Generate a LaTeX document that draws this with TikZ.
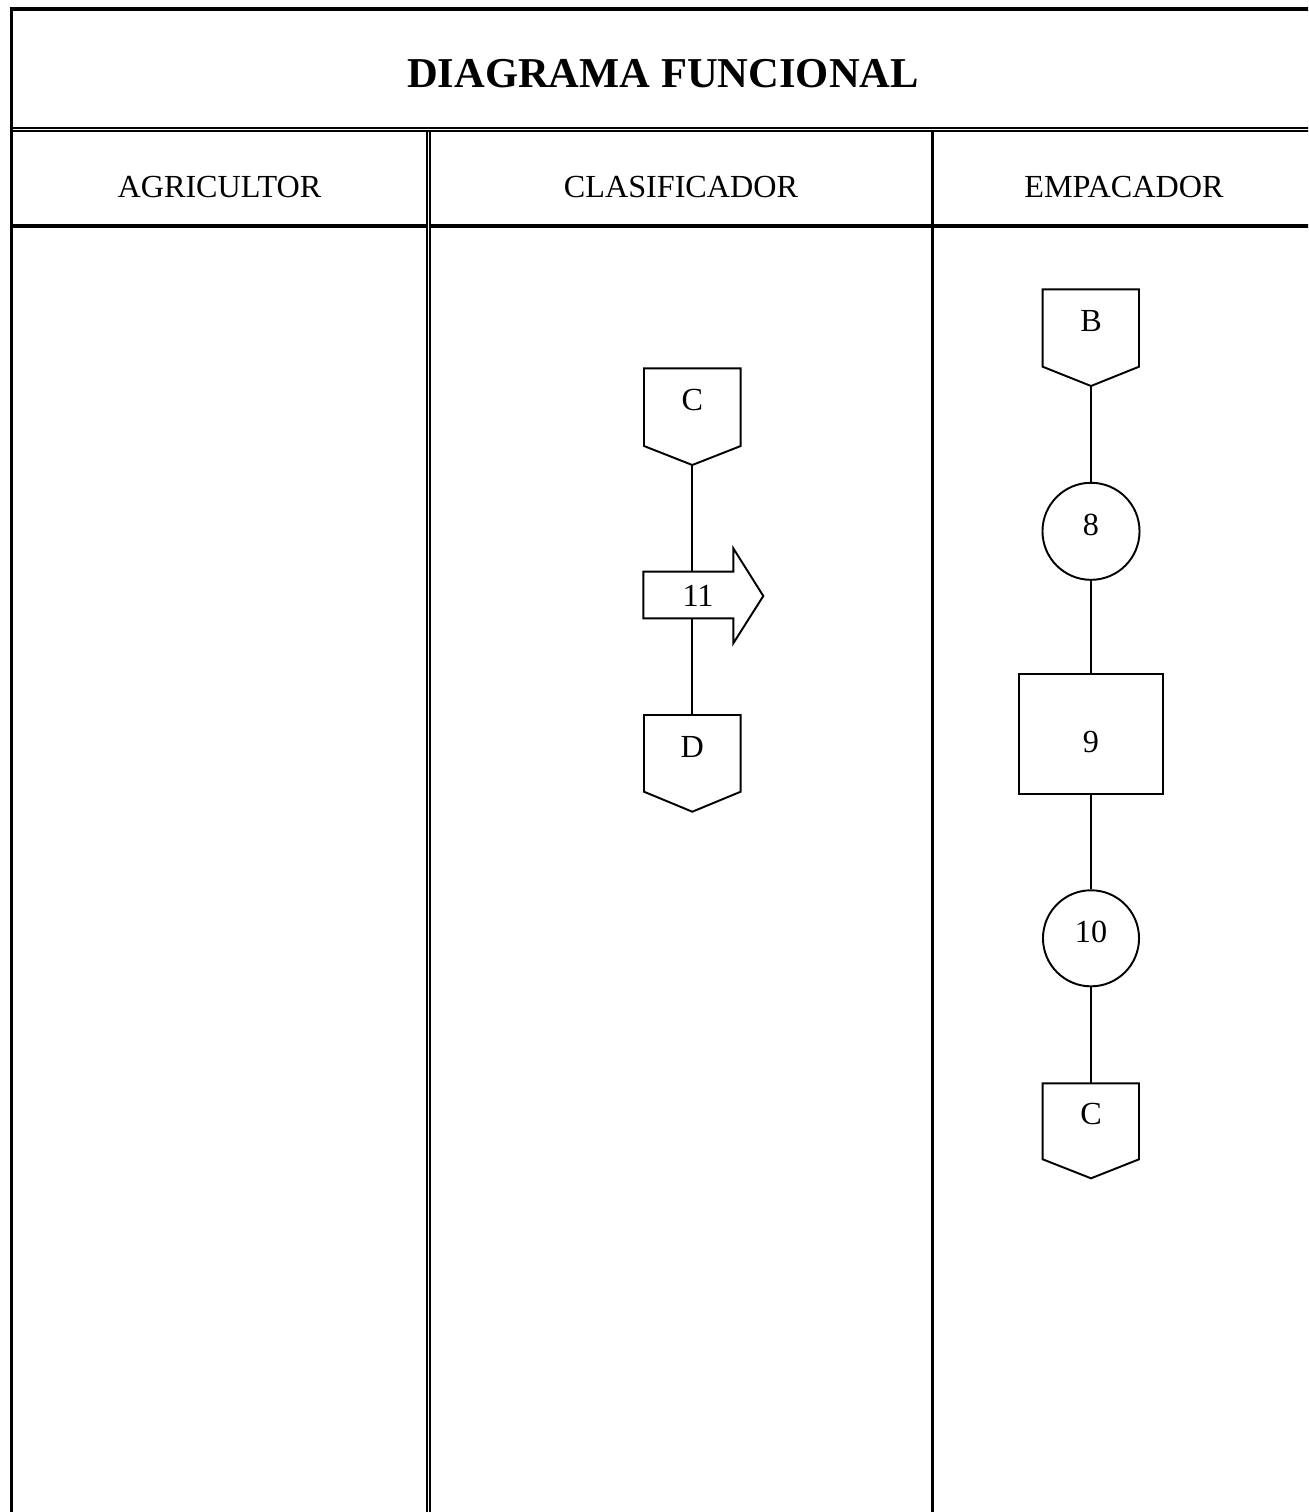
\documentclass[tikz,border=0pt]{standalone}
\usepackage{fontspec}
\setmainfont{Liberation Serif}
\usepackage{tikz}
\tikzstyle{frame} = [line width=1.1pt]
\tikzstyle{dbl} = [line width=0.48pt]
\tikzstyle{shp} = [line width=0.55pt]
\tikzstyle{lbl} = [font=\fontsize{9.15}{11}\selectfont, inner sep=0pt]

\begin{document}
\begin{tikzpicture}[x=0.01cm, y=-0.01cm]
            \useasboundingbox (0,0) rectangle (1308,1512);
            \clip (0,0) rectangle (1308,1512);
            % marco de la tabla
            \draw[frame] (11.5,7.3) -- (11.5,1520);
            \draw[frame] (9.5,9.2) -- (1320,9.2);
            \draw[dbl] (13,127.8) -- (1320,127.8);
            \draw[dbl] (13,130.8) -- (1320,130.8);
            \draw[dbl] (427,130.8) -- (427,1520);
            \draw[dbl] (430.3,130.8) -- (430.3,1520);
            \draw[frame] (932.5,130.8) -- (932.5,1520);
            \draw[frame] (13,226) -- (427,226);
            \draw[frame] (430.3,226) -- (1320,226);
            \node (title) at (663,74) {\fontsize{12.1}{14}\selectfont\bfseries DIAGRAMA FUNCIONAL};
            \node[lbl] (agri) at (219.5,187.5) {AGRICULTOR};
            \node[lbl] (clas) at (681,187.5) {CLASIFICADOR};
            \node[lbl] (emp) at (1124,187.5) {EMPACADOR};
            % clasificador
            \node[lbl] (cC) at (692.3,400) {C};
            \draw[shp] (644,368.3) -- (740.7,368.3) -- (740.7,446) -- (692.3,465) -- (644,446) -- cycle;
            \coordinate (cCp) at (692.3,465);
            \node[lbl] (a11) at (698,596) {11};
            \draw[shp] (643.3,571.7) -- (733.3,571.7) -- (733.3,548.3) -- (763.3,596)
                -- (733.3,643.3) -- (733.3,618.3) -- (643.3,618.3) -- cycle;
            \coordinate (a11t) at (692.3,571.7);
            \coordinate (a11b) at (692.3,618.3);
            \node[lbl] (cD) at (692.3,746.7) {D};
            \draw[shp] (644,715) -- (740.7,715) -- (740.7,791.7) -- (692.3,811.7) -- (644,791.7) -- cycle;
            \coordinate (cDt) at (692.3,715);
            \draw[shp] (cCp) -- (a11t);
            \draw[shp] (a11b) -- (cDt);
            % empacador
            \node[lbl] (eB) at (1091,320.7) {B};
            \draw[shp] (1042.7,289.3) -- (1139,289.3) -- (1139,366.7) -- (1091,386) -- (1042.7,366.7) -- cycle;
            \coordinate (eBp) at (1091,386);
            \node[circle, draw, shp, lbl, minimum size=0.97cm, text height=6pt, text depth=3.4pt] (n8) at (1091,531.3) {8};
            \node[draw, shp, lbl, minimum width=1.443cm, minimum height=1.203cm, text height=10.4pt, text depth=0pt] (n9) at (1091,734.2) {9};
            \node[circle, draw, shp, lbl, minimum size=0.96cm, text height=6pt, text depth=3.4pt] (n10) at (1091,938.3) {10};
            \node[lbl] (eC) at (1091,1114) {C};
            \draw[shp] (1042.7,1083.3) -- (1139,1083.3) -- (1139,1159.3) -- (1091,1178.3) -- (1042.7,1159.3) -- cycle;
            \coordinate (eCt) at (1091,1083.3);
            \draw[shp] (eBp) -- (n8);
            \draw[shp] (n8) -- (n9);
            \draw[shp] (n9) -- (n10);
            \draw[shp] (n10) -- (eCt);
        \end{tikzpicture}
\end{document}
